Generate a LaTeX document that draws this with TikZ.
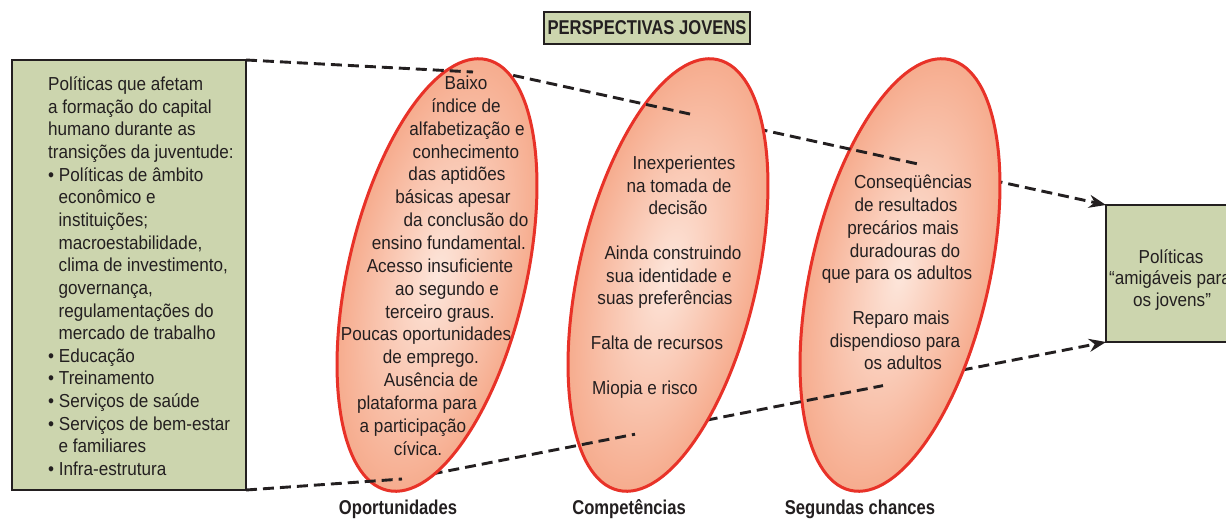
\documentclass[tikz,border=0pt]{standalone}
\usepackage{fontspec}
\setmainfont{Liberation Sans}[FakeStretch=0.91]
\newfontfamily\hdfont{Liberation Sans}[FakeStretch=0.83]
\usetikzlibrary{arrows.meta}
\definecolor{boxgreen}{RGB}{204,213,174}
\definecolor{ered}{RGB}{232,50,40}
\definecolor{einner}{RGB}{253,230,219}
\definecolor{eouter}{RGB}{246,172,142}
\definecolor{ink}{RGB}{35,31,32}
\begin{document}
\begin{tikzpicture}[x=1pt,y=-1pt,
  gbox/.style={draw=ink, line width=2.6pt, fill=boxgreen, inner sep=0pt, outer sep=0pt},
  dline/.style={draw=ink, line width=2.9pt, dash pattern=on 11pt off 6pt},
  darrow/.style={dline, -{Stealth[length=17pt,width=13pt]}},
  etext/.style={font=\fontsize{18.8}{22.6}\selectfont, text=ink, anchor=base, yshift=-6.5pt, inner sep=0pt},
  lab/.style={font=\hdfont\bfseries\fontsize{20}{24}\selectfont, text=ink, inner sep=0pt},
  oval/.style={draw=ered, line width=3pt, inner color=einner, outer color=eouter}
]
\clip (0,0) rectangle (1226,519);
\fill[white] (0,0) rectangle (1226,519);

% boxes
\node[gbox, minimum width=234pt, minimum height=430pt, anchor=north west] (lbox) at (12,60) {};
\node[gbox, minimum width=134pt, minimum height=137pt, anchor=north west] (rbox) at (1106,205) {};
\node[gbox, minimum width=206pt, minimum height=32pt, lab] (title) at (647,28) {PERSPECTIVAS JOVENS};

% coordinates for dashed perspective lines
\coordinate (u1e) at (473,72);
\coordinate (u2s) at (480,68.1);
\coordinate (u2e) at (693,114.7);
\coordinate (u3s) at (740,125);
\coordinate (u3e) at (918,164);
\coordinate (u4s) at (975,176.5);
\coordinate (l1e) at (402,479);
\coordinate (l2s) at (415,477.3);
\coordinate (l2e) at (635,434.2);
\coordinate (l3s) at (690,423.4);
\coordinate (l3e) at (883,385.6);
\coordinate (l4s) at (945,373.4);

% back to front
\draw[darrow] (u4s) -- (rbox.north west);
\draw[darrow] (l4s) -- (rbox.south west);
\path[oval, transform canvas={shift={(900,275)},rotate=77}] (0,0) ellipse (221 and 89);
\draw[dline] (u3s) -- (u3e);
\draw[dline] (l3s) -- (l3e);
\path[oval, transform canvas={shift={(668,275)},rotate=77}] (0,0) ellipse (221 and 89);
\draw[dline] (u2s) -- (u2e);
\draw[dline] (l2s) -- (l2e);
\path[oval, transform canvas={shift={(437,275)},rotate=77}] (0,0) ellipse (221 and 89);
\draw[dline] (lbox.north east) -- (u1e);
\draw[dline] (lbox.south east) -- (l1e);

% left box text
\foreach \x/\t [count=\i from 0] in {
  48/Políticas que afetam,
  48/a formação do capital,
  48/humano durante as,
  48/transições da juventude:,
  48/•\ Políticas de âmbito,
  58.5/econômico e,
  58.5/instituições;,
  58.5/{macroestabilidade,},
  58.5/{clima de investimento,},
  58.5/{governança,},
  58.5/regulamentações do,
  58.5/mercado de trabalho,
  48/•\ Educação,
  48/•\ Treinamento,
  48/•\ Serviços de saúde,
  48/•\ Serviços de bem-estar,
  58.5/e familiares,
  48/•\ Infra-estrutura}
  \node[etext, anchor=base west] (lt\i) at (\x,{84+22.65*\i}) {\t};

% ellipse 1 text
\foreach \x/\y/\t [count=\i] in {
  466/83/Baixo,
  466/106/índice de,
  467/129/alfabetização e,
  466/152/conhecimento,
  457/174/das aptidões,
  453/197/básicas apesar,
  466/220/da conclusão do,
  449/243/ensino fundamental.,
  440/266/Acesso insuficiente,
  447/289/ao segundo e,
  440/312/terceiro graus.,
  426/334/Poucas oportunidades,
  431/357/de emprego.,
  431/380/Ausência de,
  417/403/plataforma para,
  413/426/a participação,
  418/449/cívica.}
  \node[etext] (ea\i) at (\x,\y) {\t};

% ellipse 2 text
\foreach \x/\y/\t [count=\i] in {
  684/163/Inexperientes,
  679/186/na tomada de,
  678/208/decisão,
  673/253/Ainda construindo,
  669/276/sua identidade e,
  665/298/suas preferências,
  657/343/Falta de recursos,
  645/388/Miopia e risco}
  \node[etext] (eb\i) at (\x,\y) {\t};

% ellipse 3 text
\foreach \x/\y/\t [count=\i] in {
  913/182/Conseqüências,
  906/205/de resultados,
  903/228/precários mais,
  905/251/duradouras do,
  897/273/que para os adultos,
  901/318/Reparo mais,
  895/341/dispendioso para,
  903/363/os adultos}
  \node[etext] (ec\i) at (\x,\y) {\t};

% right box text (cut off at the right edge, as in the source)
\foreach \x/\y/\t [count=\i] in {
  1171/257/Políticas,
  1170/278/“amigáveis para,
  1172/300/os jovens”}
  \node[etext] (rt\i) at (\x,\y) {\t};

% bottom labels
\node[lab] (op) at (398,509) {Oportunidades};
\node[lab] (co) at (629,509) {Competências};
\node[lab] (sc) at (860,509) {Segundas chances};
\end{tikzpicture}
\end{document}
